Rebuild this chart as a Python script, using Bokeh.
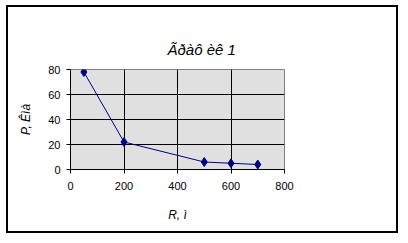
from bokeh.plotting import figure
from bokeh.models import Range1d, FixedTicker, LinearAxis
from bokeh.embed import file_html
from bokeh.resources import INLINE

r_vals = [50, 200, 500, 600, 700]
p_vals = [78, 22, 6, 5, 4]
x_ticks = [0, 200, 400, 600, 800]
y_ticks = [0, 20, 40, 60, 80]
title_text = "Ãðàô èê 1"
x_label = "R, ì"
y_label = "P, Êìà"

FONT = "Liberation Sans"

p = figure(width=392, height=228, output_backend="svg", toolbar_location=None,
           x_range=Range1d(0, 800), y_range=Range1d(0, 80),
           min_border_left=62, min_border_right=116, min_border_top=62, min_border_bottom=66)
p.styles = {"border": "2px solid black", "margin-left": "6px", "margin-top": "5px"}
p.background_fill_color = "#E0E0E0"
p.border_fill_color = "white"
p.outline_line_color = "#808080"
p.outline_line_width = 1

p.title.text = title_text
p.title.text_font = FONT
p.title.text_font_size = "15px"
p.title.text_font_style = "italic"
p.title.text_color = "black"
p.title.align = "left"
p.title.vertical_align = "top"
p.title.offset = 97
p.title.standoff = 0

for ax, ticks in ((p.xaxis[0], x_ticks), (p.yaxis[0], y_ticks)):
    ax.ticker = FixedTicker(ticks=ticks)
    ax.major_tick_in = 0
    ax.major_tick_out = 4
    ax.minor_tick_line_color = None
    ax.axis_line_color = "black"
    ax.major_tick_line_color = "black"
    ax.major_label_text_font = FONT
    ax.major_label_text_font_size = "11px"
    ax.major_label_text_color = "black"
    ax.axis_label_text_font = FONT
    ax.axis_label_text_font_size = "12px"
    ax.axis_label_text_font_style = "italic"
    ax.axis_label_text_color = "black"
    ax.major_label_standoff = 6

p.xaxis.major_label_standoff = 8
p.xaxis.axis_label = x_label
p.yaxis.axis_label = y_label
p.xaxis.axis_label_standoff = 15
p.yaxis.axis_label_standoff = 12

# invisible spacer axis between frame and title
spacer = LinearAxis(ticker=FixedTicker(ticks=[400]), axis_line_color=None,
                    major_tick_line_color=None, minor_tick_line_color=None,
                    major_tick_in=0, major_tick_out=10, minor_tick_out=0,
                    major_label_standoff=6, major_label_text_font=FONT,
                    major_label_text_font_size="11px",
                    major_label_text_color=None, major_label_text_alpha=0)
p.add_layout(spacer, "above")

p.xgrid.ticker = FixedTicker(ticks=[200, 400, 600])
p.ygrid.ticker = FixedTicker(ticks=[20, 40, 60])
for g in (p.xgrid[0], p.ygrid[0]):
    g.grid_line_color = "black"
    g.grid_line_width = 1

p.line(r_vals, p_vals, line_color="#000080", line_width=1)
p.scatter(r_vals, p_vals, marker="diamond", size=9, fill_color="#000080", line_color="#000080")

open("out.html", "w").write(file_html(p, INLINE))
